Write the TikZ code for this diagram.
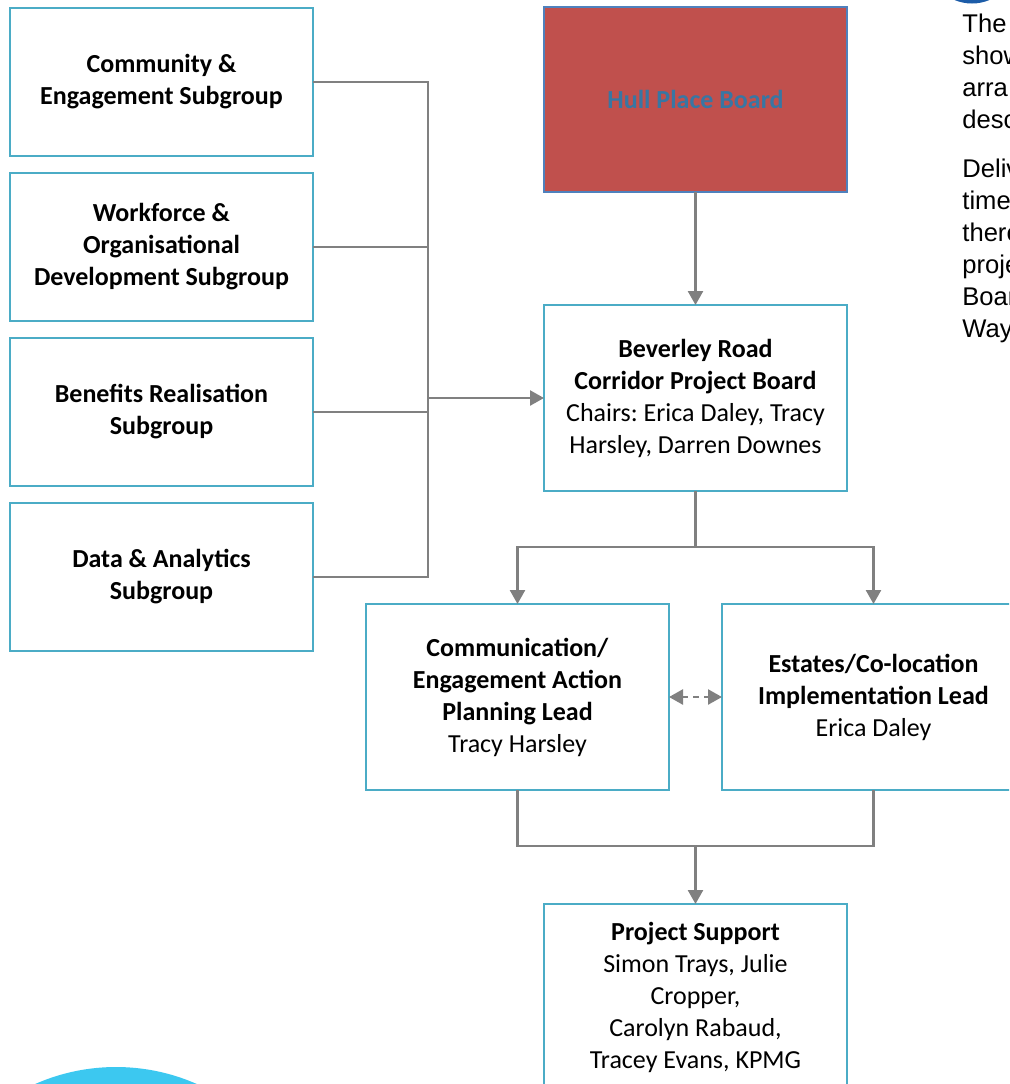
\documentclass[tikz,border=0pt]{standalone}
\usepackage{fontspec}
\setmainfont{Carlito}
\newfontfamily\arialfont{Liberation Sans}
\usetikzlibrary{arrows.meta,positioning}
\definecolor{boxteal}{RGB}{75,172,198}
\definecolor{linegray}{RGB}{128,128,128}
\definecolor{hullred}{RGB}{192,80,77}
\definecolor{hullblue}{RGB}{79,129,189}
\definecolor{hulltext}{RGB}{56,118,163}
\definecolor{blobcyan}{RGB}{60,200,240}
\definecolor{blobnavy}{RGB}{28,92,168}
\frenchspacing
\tikzset{
  box/.style={
    rectangle,
    draw=boxteal,
    line width=0.85pt,
    fill=white,
    align=center,
    inner sep=2pt,
    outer sep=0pt,
    minimum width=151.5pt,
    minimum height=93pt,
    font=\fontsize{13}{16}\selectfont
  },
  subbox/.style={box, minimum height=74pt},
  link/.style={draw=linegray, line width=1.25pt},
  arrow/.style={link, -{Triangle[length=7pt,width=7.5pt]}},
  twoway/.style={link, dash pattern=on 3pt off 2.5pt,
    {Triangle[length=7pt,width=7.5pt]}-{Triangle[length=7pt,width=7.5pt]}},
  sidetext/.style={anchor=base west, inner sep=0pt,
    font=\arialfont\fontsize{12.8}{16}\selectfont}
}

\begin{document}
\begin{tikzpicture}[x=0.5pt, y=-0.5pt, node distance=8.5pt]
  \useasboundingbox (0,0) rectangle (1009,1084);
  \clip (0,0) rectangle (1009,1084);

  % subgroups on the left
  \node[subbox] (community) at (161.5,82) {\textbf{Community \&}\\\textbf{Engagement Subgroup}};
  \node[subbox, below=of community] (workforce) {\textbf{Workforce \&}\\\textbf{Organisational}\\\textbf{Development Subgroup}};
  \node[subbox, below=of workforce] (benefits) {\textbf{Benefits Realisation}\\\textbf{Subgroup}};
  \node[subbox, below=of benefits] (data) {\textbf{Data \& Analytics}\\\textbf{Subgroup}};

  % boards
  \node[box, fill=hullred, draw=hullblue, text=hulltext, minimum height=92.5pt] (hull) at (695.5,99.5) {\textbf{Hull Place Board}};
  \node[box, below=56.5pt of hull] (beverley) {\textbf{Beverley Road}\\\textbf{Corridor Project Board}\\Chairs: Erica Daley, Tracy\\Harsley, Darren Downes};

  % leads
  \node[box] (comms) at (517.5,697) {\textbf{Communication/}\\\textbf{Engagement Action}\\\textbf{Planning Lead}\\Tracy Harsley};
  \node[box, right=26.5pt of comms] (estates) {\textbf{Estates/Co-location}\\\textbf{Implementation Lead}\\Erica Daley};
  \node[box] (support) at (695.5,997) {\textbf{Project Support}\\Simon Trays, Julie\\Cropper,\\Carolyn Rabaud,\\Tracey Evans, KPMG};

  \coordinate (bus) at ([xshift=-58pt]beverley.west);
  \coordinate (split) at ([yshift=-28pt]beverley.south);
  \coordinate (join) at ([yshift=-28pt]beverley.south |- comms.south);

  \draw[link] (community.east) -| (bus);
  \draw[link] (workforce.east) -| (bus);
  \draw[link] (benefits.east) -| (bus);
  \draw[link] (data.east) -| (bus);
  \draw[arrow] (bus) -- (beverley.west);
  \draw[arrow] (hull) -- (beverley);
  \draw[link] (beverley.south) -- (split);
  \draw[arrow] (split) -| (comms.north);
  \draw[arrow] (split) -| (estates.north);
  \draw[twoway] (comms.east) -- (estates.west);
  \draw[link] (comms.south) |- (join);
  \draw[link] (estates.south) |- (join);
  \draw[arrow] (join) -- (support.north);

  % page decoration and cut-off side text
  \fill[blobcyan] (116,1267) circle[radius=100pt];
  \fill[blobnavy] (972,-41.5) circle[radius=22.5pt];
  \foreach \word [count=\i] in {The,show,arra,desc}
    \node[sidetext] (intro\i) at (962,{32+32*(\i-1)}) {\word};
  \foreach \word [count=\i] in {Deliv,time,there,proje,Boar,Way}
    \node[sidetext] (deliv\i) at (962,{177+32*(\i-1)}) {\word};
\end{tikzpicture}
\end{document}
